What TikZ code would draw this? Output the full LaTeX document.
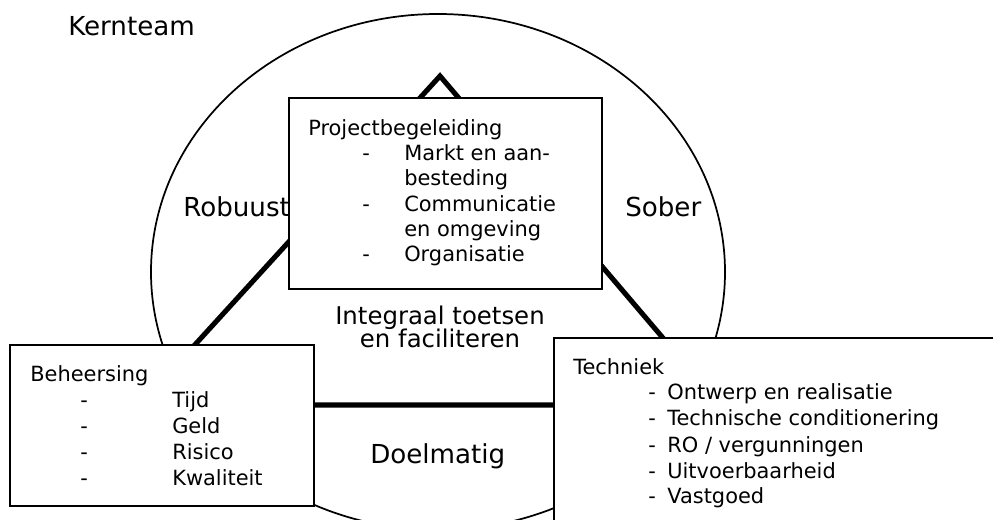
\documentclass[tikz,border=0pt]{standalone}
\usepackage{fontspec}
\setmainfont{DejaVu Sans}
\usetikzlibrary{positioning}

\tikzset{
	rim/.style={line width=1.3pt},
	side/.style={line width=3.8pt, line join=miter},
	block/.style={draw, line width=1.4pt, fill=white, anchor=north west, inner sep=0pt},
	biglabel/.style={font=\fontsize{19.6}{23}\selectfont, inner sep=0pt},
	boxtext/.style={font=\fontsize{15.7}{19}\selectfont, anchor=base west, inner sep=0pt},
}

\begin{document}
\begin{tikzpicture}[x=0.75pt,y=-0.75pt]
		\useasboundingbox (0,0) rectangle (993,520);
		\clip (0,0) rectangle (993,520);
		%
		\node[biglabel, anchor=base west] (kernteam) at (68,36) {Kernteam};
		\draw[rim] (438,272) ellipse [x radius=287, y radius=258];
		%
		\coordinate (apex) at (440,76);
		\coordinate (lefttip) at (140,405);
		\coordinate (righttip) at (720,405);
		\draw[side] (apex) -- (lefttip) -- (righttip) -- cycle;
		%
		\node[block, minimum width=234.75pt, minimum height=143.25pt] (project) at (288,97) {};
		\node[block, minimum width=228pt, minimum height=120.75pt] (beheer) at (9,344) {};
		\node[block, minimum width=335pt, minimum height=145pt] (techniek) at (553,337) {};
		%
		\node[boxtext] (projecttitle) at (308,136) {Projectbegeleiding};
		\foreach \y in {161, 212, 262}
			\node[boxtext] at (362,\y) {-};
		\foreach \y/\txt in {161/Markt en aan-, 186/besteding, 212/Communicatie, 237/en omgeving, 262/Organisatie}
			\node[boxtext] at (404,\y) {\txt};
		%
		\node[boxtext] (beheertitle) at (30,382) {Beheersing};
		\foreach \y/\txt in {407/Tijd, 433/Geld, 459/Risico, 485/Kwaliteit}{
			\node[boxtext] at (80,\y) {-};
			\node[boxtext] at (172,\y) {\txt};
		}
		%
		\node[boxtext] (techniektitle) at (573,375) {Techniek};
		\foreach \y/\txt in {400/{Ontwerp en realisatie}, 426/{Technische conditionering}, 452/{RO / vergunningen}, 478/{Uitvoerbaarheid}, 503/{Vastgoed}}
			\node[boxtext] at (648,\y) {-\hspace{0.55em}\txt};
		%
		\node[biglabel, anchor=base west] (robuust) at (183,217) {Robuust};
		\node[biglabel, anchor=base west] (sober) at (625,217) {Sober};
		\node[biglabel, anchor=base, font=\fontsize{18.3}{22}\selectfont] (integraal) at (440,325) {Integraal toetsen};
		\node[biglabel, anchor=base, font=\fontsize{18.3}{22}\selectfont] (facil) at (440,348) {en faciliteren};
		\node[biglabel, anchor=base west] (doelmatig) at (370,463) {Doelmatig};
	\end{tikzpicture}
\end{document}
